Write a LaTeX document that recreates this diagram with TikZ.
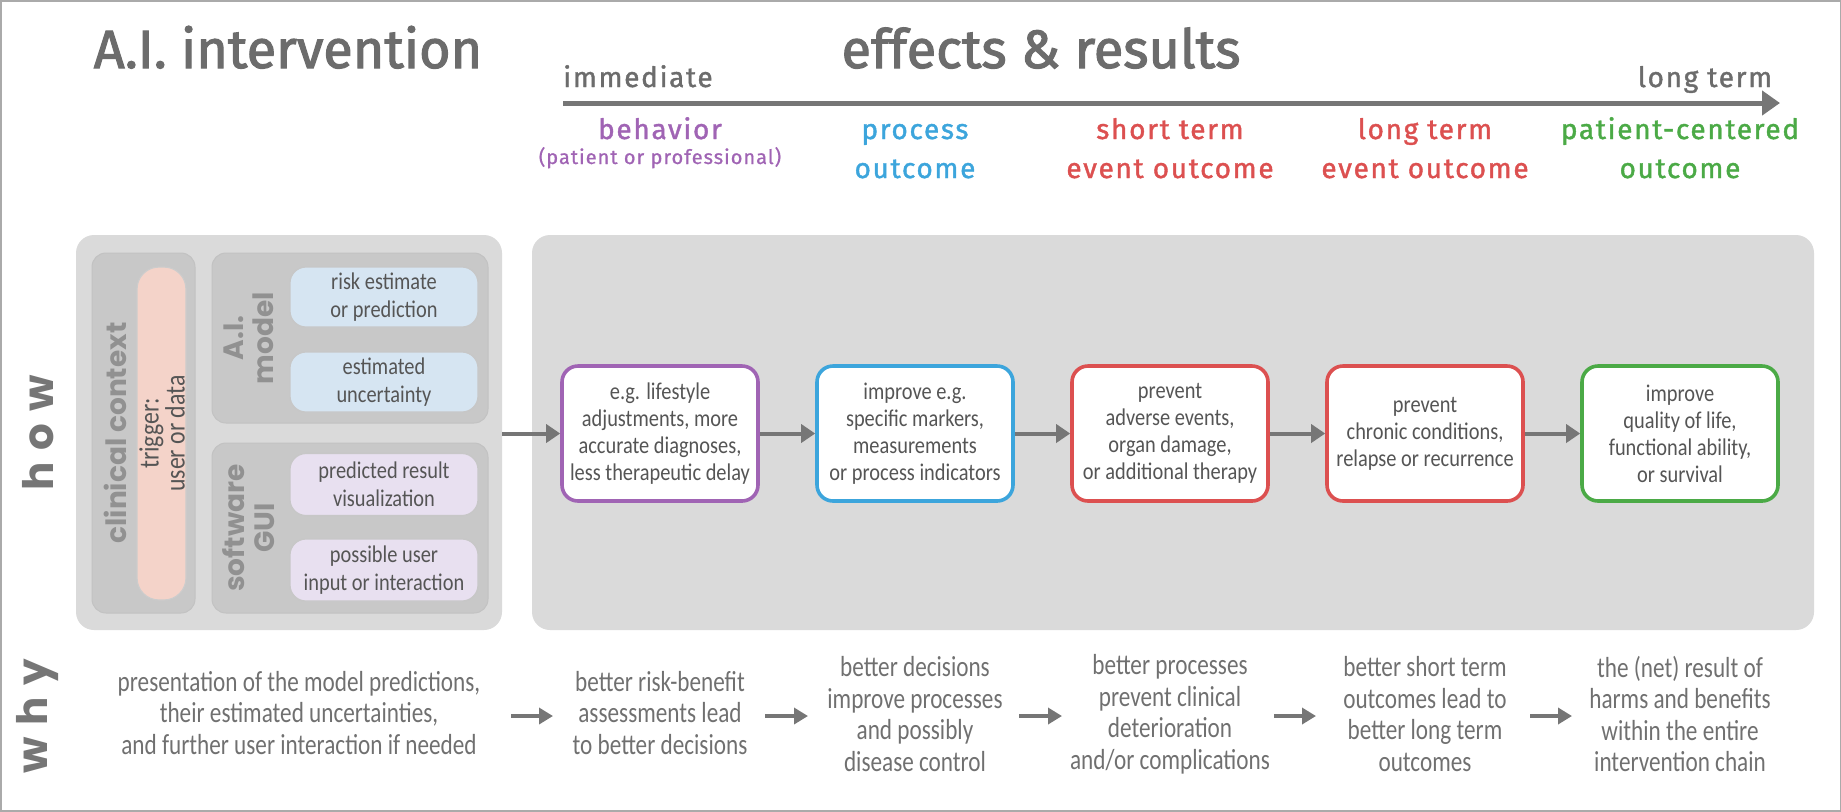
\documentclass[tikz,border=0pt]{standalone}
\usepackage{fontspec}
\usetikzlibrary{arrows.meta}
\setmainfont{Carlito}
\newfontfamily\titlef[FakeBold=2]{Fira Sans}
\newfontfamily\labf[FakeBold=1.4,LetterSpace=6]{Fira Sans}
\newfontfamily\subf[FakeBold=0.9,LetterSpace=5]{Fira Sans}
\newfontfamily\condf[FakeStretch=0.85]{Carlito}
\newfontfamily\whyf[FakeStretch=0.8]{Carlito}
\newfontfamily\popf[LetterSpace=28]{Poppins}
\newfontfamily\popbf{Poppins}
\definecolor{tgray}{RGB}{108,108,108}
\definecolor{panel}{RGB}{218,218,218}
\definecolor{group}{RGB}{200,200,200}
\definecolor{grouptext}{RGB}{145,145,145}
\definecolor{cpurple}{RGB}{160,100,180}
\definecolor{cblue}{RGB}{60,165,220}
\definecolor{cred}{RGB}{220,80,80}
\definecolor{cgreen}{RGB}{75,170,70}
\definecolor{lblue}{RGB}{214,229,242}
\definecolor{lpurple}{RGB}{232,224,240}
\definecolor{lpink}{RGB}{244,211,201}
\definecolor{arrowgray}{RGB}{118,118,118}
\definecolor{boxtext}{RGB}{85,85,85}
\definecolor{whytext}{RGB}{112,112,112}
\definecolor{framecol}{RGB}{170,170,170}
\begin{document}
\begin{tikzpicture}[x=0.5pt,y=-0.5pt,
  title/.style={font=\titlef\fontsize{27}{30}\selectfont, text=tgray, inner sep=0},
  lab/.style={font=\labf\fontsize{14}{16}\selectfont, inner sep=0},
  sublab/.style={font=\subf\fontsize{10}{12}\selectfont, inner sep=0},
  bigside/.style={font=\popf\bfseries\fontsize{21}{24}\selectfont, text=arrowgray, rotate=90, inner sep=0},
  panelbox/.style={fill=panel, draw=none, rounded corners=9pt, inner sep=0},
  groupbox/.style={fill=group, draw=black!24, line width=0.5pt, rounded corners=7pt, inner sep=0},
  glab/.style={font=\popbf\bfseries\fontsize{14}{15}\selectfont, text=grouptext, rotate=90, align=center, inner sep=0},
  smallbox/.style={draw=black!22, line width=0.6pt, rounded corners=8pt, minimum width=94pt, minimum height=30pt, inner sep=0, align=center, font=\condf\fontsize{12}{14}\selectfont, text=boxtext},
  outbox/.style={draw=#1, line width=1.8pt, fill=white, rounded corners=8pt, minimum width=98pt, minimum height=67.5pt, align=center, font=\condf\fontsize{12}{13.5}\selectfont, text=boxtext, inner sep=0},
  whytxt/.style={align=center, font=\whyf\fontsize{14.5}{15.75}\selectfont, text=whytext, inner sep=0},
  flow/.style={draw=arrowgray, line width=2pt, -{Triangle[length=7pt,width=9pt]}},
  whyarrow/.style={draw=arrowgray, line width=2.4pt, -{Triangle[length=7pt,width=8pt]}},
  axis/.style={draw=arrowgray, line width=2.5pt, -{Triangle[length=9pt,width=12pt]}}
]
\useasboundingbox (0,0) rectangle (1841,811);
\draw[framecol, line width=1pt] (0.5,0.5) rectangle (1840.5,810.5);

% titles
\node[title, anchor=base] (t1) at (288,68) {A.I. intervention};
\node[title, anchor=base] (t2) at (1041,68) {effects \& results};
\node[lab, text=tgray, anchor=base] (imm) at (638,87) {immediate};
\node[lab, text=tgray, anchor=base] (lt) at (1705,87) {long term};
\coordinate (axs) at (563,103);
\coordinate (axe) at (1780,103);
\draw[axis] (axs) -- (axe);

% column labels
\node[lab, text=cpurple, anchor=base] (c1a) at (660,139) {behavior};
\node[sublab, text=cpurple, anchor=base] (c1b) at (660,164) {(patient or professional)};
\node[lab, text=cblue, anchor=base] (c2a) at (915,139) {process};
\node[lab, text=cblue, anchor=base] (c2b) at (915,178) {outcome};
\node[lab, text=cred, anchor=base] (c3a) at (1170,139) {short term};
\node[lab, text=cred, anchor=base] (c3b) at (1170,178) {event outcome};
\node[lab, text=cred, anchor=base] (c4a) at (1425,139) {long term};
\node[lab, text=cred, anchor=base] (c4b) at (1425,178) {event outcome};
\node[lab, text=cgreen, anchor=base] (c5a) at (1680,139) {patient-centered};
\node[lab, text=cgreen, anchor=base] (c5b) at (1680,178) {outcome};

% side labels
\node[bigside] (how) at (38,433) {how};
\node[bigside] (why) at (38,716) {why};

% panels
\node[panelbox, minimum width=213pt, minimum height=197.5pt] (lp) at (289,432.5) {};
\node[panelbox, minimum width=641pt, minimum height=197.5pt] (rp) at (1173,432.5) {};

% left panel contents
\node[groupbox, minimum width=51.5pt, minimum height=180pt] (ccg) at (143.5,433) {};
\node[glab] (cc) at (115,433) {clinical context};
\node[draw=black!20, line width=0.6pt, fill=lpink, rounded corners=11pt, minimum width=24.5pt, minimum height=166.5pt, inner sep=0] (pill) at (161.5,433.5) {};
\node[rotate=90, align=center, font=\condf\fontsize{14}{13}\selectfont, text=boxtext, inner sep=0] (trg) at (162,433.5) {trigger:\\user or data};

\node[groupbox, minimum width=138pt, minimum height=85pt] (aig) at (350,338) {};
\node[glab] (aim) at (249,338) {A.I.\\model};
\node[smallbox, fill=lblue] (rb1) at (384,297) {risk estimate\\or prediction};
\node[smallbox, fill=lblue] (rb2) at (384,382) {estimated\\uncertainty};

\node[groupbox, minimum width=138pt, minimum height=85pt] (guig) at (350,528) {};
\node[glab] (gui) at (249,528) {software\\GUI};
\node[smallbox, fill=lpurple, minimum height=31pt] (pb1) at (384,484.5) {predicted result\\visualization};
\node[smallbox, fill=lpurple, minimum height=31pt] (pb2) at (384,570) {possible user\\input or interaction};

% outcome boxes
\node[outbox=cpurple] (b1) at (660,433.5) {e.g. lifestyle\\adjustments, more\\accurate diagnoses,\\less therapeutic delay};
\node[outbox=cblue] (b2) at (915,433.5) {improve e.g.\\specific markers,\\measurements\\or process indicators};
\node[outbox=cred] (b3) at (1170,433.5) {prevent\\adverse events,\\organ damage,\\or additional therapy};
\node[outbox=cred] (b4) at (1425,433.5) {prevent\\chronic conditions,\\relapse or recurrence};
\node[outbox=cgreen] (b5) at (1680,433.5) {improve\\quality of life,\\functional ability,\\or survival};

\draw[flow] (lp.east |- b1.west) -- (b1.west);
\draw[flow] (b1) -- (b2);
\draw[flow] (b2) -- (b3);
\draw[flow] (b3) -- (b4);
\draw[flow] (b4) -- (b5);

% why row
\node[whytxt] (w1) at (299,713) {presentation of the model predictions,\\their estimated uncertainties,\\and further user interaction if needed};
\node[whytxt] (w2) at (660,713) {better risk-benefit\\assessments lead\\to better decisions};
\node[whytxt] (w3) at (915,714) {better decisions\\improve processes\\and possibly\\disease control};
\node[whytxt] (w4) at (1170,714) {better processes\\prevent clinical\\deterioration\\and/or complications};
\node[whytxt] (w5) at (1425,714) {better short term\\outcomes lead to\\better long term\\outcomes};
\node[whytxt] (w6) at (1680,714) {the (net) result of\\harms and benefits\\within the entire\\intervention chain};

\coordinate (a1s) at (511,716); \coordinate (a1e) at (553,716);
\coordinate (a2s) at (765,716); \coordinate (a2e) at (808,716);
\coordinate (a3s) at (1019,716); \coordinate (a3e) at (1062,716);
\coordinate (a4s) at (1274,716); \coordinate (a4e) at (1316,716);
\coordinate (a5s) at (1530,716); \coordinate (a5e) at (1572,716);
\draw[whyarrow] (a1s) -- (a1e);
\draw[whyarrow] (a2s) -- (a2e);
\draw[whyarrow] (a3s) -- (a3e);
\draw[whyarrow] (a4s) -- (a4e);
\draw[whyarrow] (a5s) -- (a5e);
\end{tikzpicture}
\end{document}
